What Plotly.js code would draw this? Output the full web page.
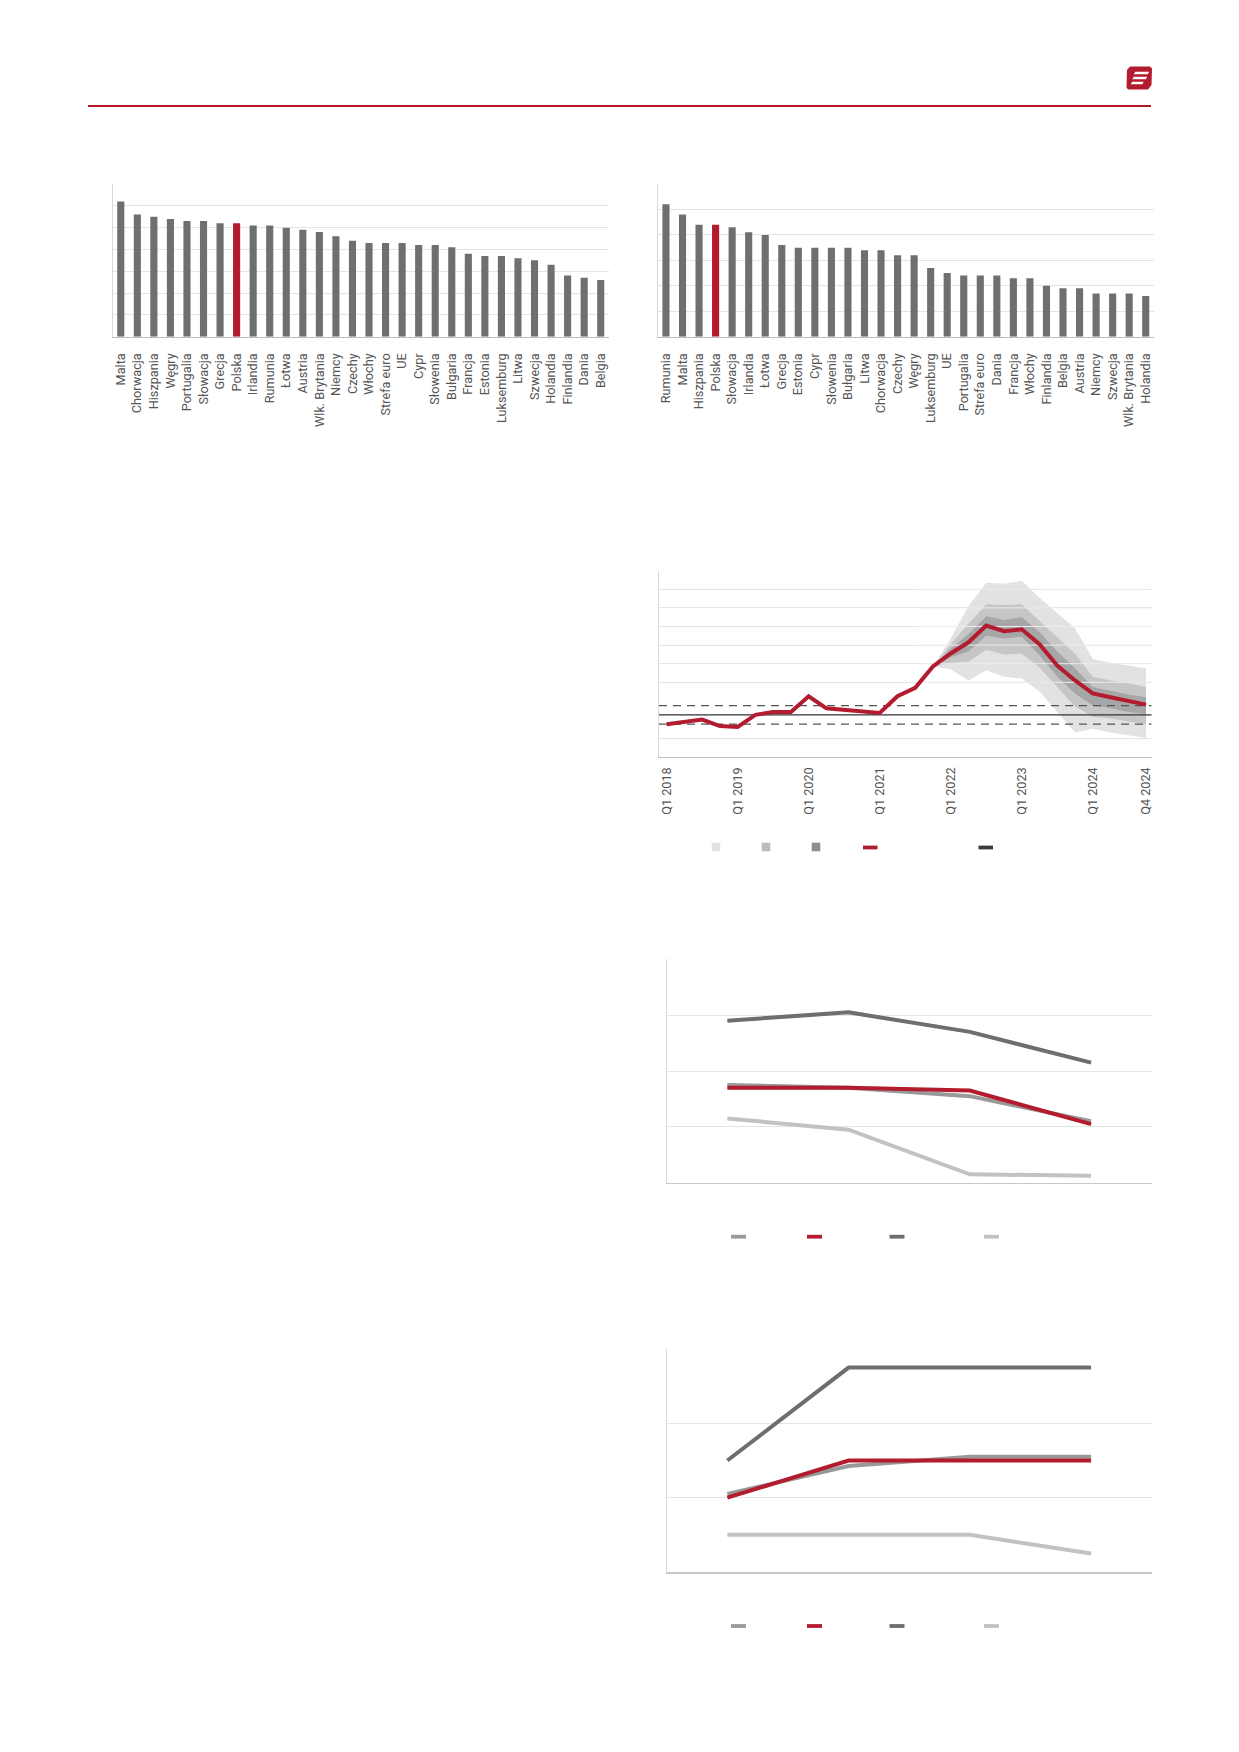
<!DOCTYPE html>
<html>
<head>
<meta charset="utf-8">
<script src="https://cdn.plot.ly/plotly-3.0.1.min.js"></script>
<style>
  html, body { margin: 0; padding: 0; background: #ffffff; }
  #chart { width: 1239px; height: 1752px; }
</style>
</head>
<body>
<div id="chart"></div>
<script>
// ---------- DATA ----------
// Chart 1 (top left) – categories and values
const cats1 = ["Malta","Chorwacja","Hiszpania","Węgry","Portugalia","Słowacja","Grecja","Polska","Irlandia","Rumunia","Łotwa","Austria","Wlk. Brytania","Niemcy","Czechy","Włochy","Strefa euro","UE","Cypr","Słowenia","Bułgaria","Francja","Estonia","Luksemburg","Litwa","Szwecja","Holandia","Finlandia","Dania","Belgia"];
const vals1 = [12.4,11.2,11.0,10.8,10.6,10.6,10.4,10.4,10.2,10.2,10.0,9.8,9.6,9.2,8.8,8.6,8.6,8.6,8.4,8.4,8.2,7.6,7.4,7.4,7.2,7.0,6.6,5.6,5.4,5.2];

// Chart 2 (top right)
const cats2 = ["Rumunia","Malta","Hiszpania","Polska","Słowacja","Irlandia","Łotwa","Grecja","Estonia","Cypr","Słowenia","Bułgaria","Litwa","Chorwacja","Czechy","Węgry","Luksemburg","UE","Portugalia","Strefa euro","Dania","Francja","Włochy","Finlandia","Belgia","Austria","Niemcy","Szwecja","Wlk. Brytania","Holandia"];
const vals2 = [5.2,4.8,4.4,4.4,4.3,4.1,4.0,3.6,3.5,3.5,3.5,3.5,3.4,3.4,3.2,3.2,2.7,2.5,2.4,2.4,2.4,2.3,2.3,2.0,1.9,1.9,1.7,1.7,1.7,1.6];

// Chart 3 (fan chart) – quarters Q1 2018 .. Q4 2024
const quarters = ["Q1 2018","Q2 2018","Q3 2018","Q4 2018","Q1 2019","Q2 2019","Q3 2019","Q4 2019","Q1 2020","Q2 2020","Q3 2020","Q4 2020","Q1 2021","Q2 2021","Q3 2021","Q4 2021","Q1 2022","Q2 2022","Q3 2022","Q4 2022","Q1 2023","Q2 2023","Q3 2023","Q4 2023","Q1 2024","Q2 2024","Q3 2024","Q4 2024"];
const quarterTicks = ["Q1 2018","Q1 2019","Q1 2020","Q1 2021","Q1 2022","Q1 2023","Q1 2024","Q4 2024"];
const central = [1.5,1.7,2.0,1.3,1.2,2.5,2.8,2.8,4.5,3.2,3.0,2.8,2.7,4.5,5.4,7.7,9.1,10.3,12.1,11.5,11.7,10.1,7.8,6.2,4.8,4.4,4.0,3.6];
const fanStart = "Q4 2021";
const outerUp = [7.7,10.7,14.2,16.7,16.6,16.9,15.1,13.4,11.8,8.5,8.1,7.8,7.5];
const outerLo = [7.7,7.4,6.2,7.3,6.6,6.4,5.0,2.8,0.6,1.0,0.6,0.3,0.0];
const midUp   = [7.7,10.1,12.3,14.4,14.3,14.4,12.6,10.9,9.1,6.6,6.2,5.9,5.5];
const midLo   = [7.7,8.1,8.2,9.5,9.0,9.1,7.6,5.5,3.4,2.3,2.1,1.8,1.5];
const darkUp  = [7.7,9.6,11.2,13.1,12.7,13.0,11.4,9.3,7.5,5.5,5.1,4.7,4.4];
const darkLo  = [7.7,8.7,9.3,11.0,10.7,10.9,8.9,6.6,4.8,3.5,3.2,2.8,2.6];
const target = 2.5, targetLo = 1.5, targetHi = 3.5;
const grid3 = [0,6,8,10,12,14,16,18];

// Chart 4
const periods = ["P1","P2","P3","P4"];
const s4mid   = [3.5,3.4,3.1,2.2];
const s4red   = [3.4,3.4,3.3,2.1];
const s4dark  = [5.8,6.1,5.4,4.3];
const s4light = [2.3,1.9,0.3,0.25];

// Chart 5
const s5mid   = [2.1,2.85,3.1,3.1];
const s5red   = [2.0,3.0,3.0,3.0];
const s5dark  = [3.0,5.5,5.5,5.5];
const s5light = [1.0,1.0,1.0,0.5];

// ---------- STYLE ----------
const W = 1239, H = 1752;
const RED = '#b31b2e', GRAY = '#6f6f6f';
const C_MID = '#999999', C_DARK = '#6e6e6e', C_LIGHT = '#c2c2c2';
const FAN1 = '#e2e2e2', FAN2 = '#c6c6c6', FAN3 = '#a6a6a6';
const GRID = '#e4e4e4';
const FONT = 'Roboto, "Open Sans", Arial, sans-serif';

const xd = (a,b) => [a/W, b/W];
const yd = (top,bottom) => [1-bottom/H, 1-top/H];
const px = x => x/W;
const py = y => 1 - y/H;

// ---------- TRACES ----------
const traces = [];

traces.push({type:'bar', x: cats1, y: vals1, xaxis:'x', yaxis:'y',
  marker:{color: cats1.map(c => c === 'Polska' ? RED : GRAY)}, hoverinfo:'x+y'});
traces.push({type:'bar', x: cats2, y: vals2, xaxis:'x2', yaxis:'y2',
  marker:{color: cats2.map(c => c === 'Polska' ? RED : GRAY)}, hoverinfo:'x+y'});

// fan chart
const qIdx = quarters.map((q,i) => i);
const f0 = quarters.indexOf(fanStart);
const fanX = outerUp.map((v,i) => f0 + i);
function band(up, lo, color) {
  return {type:'scatter', mode:'lines', xaxis:'x3', yaxis:'y3',
    x: fanX.concat(fanX.slice().reverse()),
    y: up.concat(lo.slice().reverse()),
    fill:'toself', fillcolor: color, line:{width:0, color: color}, hoverinfo:'skip'};
}
traces.push(band(outerUp, outerLo, FAN1));
traces.push(band(midUp, midLo, FAN2));
traces.push(band(darkUp, darkLo, FAN3));
const X3RANGE = [-0.43, 27.32];
// gridlines redrawn over the fan
grid3.filter(g => g > 0 && g < 18).forEach(g => {
  traces.push({type:'scatter', mode:'lines', xaxis:'x3', yaxis:'y3',
    x: [fanX[0] - 1, X3RANGE[1]], y: [g, g], line:{color:'#ececec', width:1}, hoverinfo:'skip'});
});
[targetHi, targetLo].forEach(t => {
  traces.push({type:'scatter', mode:'lines', xaxis:'x3', yaxis:'y3',
    x: X3RANGE, y: [t, t], line:{color:'#555555', width:1.2, dash:'8px,6px'}, hoverinfo:'skip'});
});
traces.push({type:'scatter', mode:'lines', xaxis:'x3', yaxis:'y3',
  x: X3RANGE, y: [target, target], line:{color:'#333333', width:1.2}, hoverinfo:'skip'});
traces.push({type:'scatter', mode:'lines', xaxis:'x3', yaxis:'y3',
  x: qIdx, y: central, line:{color: RED, width:4, shape:'linear'}});

// chart 4 & 5 lines
const pIdx = periods.map((p,i) => i);
function ln(y, color, ax) {
  return {type:'scatter', mode:'lines', x: pIdx, y: y, xaxis:'x'+ax, yaxis:'y'+ax,
    line:{color: color, width:4}};
}
traces.push(ln(s4light, C_LIGHT, 4), ln(s4dark, C_DARK, 4), ln(s4mid, C_MID, 4), ln(s4red, RED, 4));
traces.push(ln(s5light, C_LIGHT, 5), ln(s5dark, C_DARK, 5), ln(s5mid, C_MID, 5), ln(s5red, RED, 5));

// ---------- AXES ----------
const tickFont = {family: FONT, size: 12.7, color: '#555555'};
function catX(domain, anchor) {
  return {domain: domain, anchor: anchor, type:'category', tickangle:-90, tickfont: tickFont,
    showline:true, linecolor:'#bdbdbd', linewidth:1.5, showgrid:false, ticks:'',
    ticklabelstandoff: 10, fixedrange:true};
}
function valY(domain, anchor, range, dtick) {
  return {domain: domain, anchor: anchor, range: range, dtick: dtick, showticklabels:false,
    showgrid:true, gridcolor: GRID, gridwidth:1, zeroline:false,
    showline:true, linecolor:'#d9d9d9', linewidth:1, ticks:'', fixedrange:true};
}

// ---------- SHAPES (page decorations and legends) ----------
const shapes = [];
// header rule
shapes.push({type:'line', xref:'paper', yref:'paper', x0: px(88), x1: px(1151), y0: py(106), y1: py(106),
  line:{color:'#b5172b', width:2}});
// logo
function path(pts) { return 'M ' + pts.map(p => px(p[0]) + ',' + py(p[1])).join(' L ') + ' Z'; }
shapes.push({type:'path', xref:'paper', yref:'paper', fillcolor:'#b31b2e', line:{width:0},
  path: path([[1130,66.5],[1150,66.5],[1152,68.5],[1151.5,85],[1148,89.5],[1128,89.5],[1126.5,87.5],[1127,70]])});
[[73,1134,1148],[78,1132.5,1146],[83,1131,1142.5]].forEach(s => {
  shapes.push({type:'path', xref:'paper', yref:'paper', fillcolor:'#ffffff', line:{width:0},
    path: path([[s[1]+1.2, s[0]-1.3],[s[2]+1.2, s[0]-1.3],[s[2]-0.2, s[0]+1.3],[s[1]-0.2, s[0]+1.3]])});
});
// legend chart 3
[[716, FAN1],[766, '#bcbcbc'],[816, '#8f8f8f']].forEach(s => {
  shapes.push({type:'rect', xref:'paper', yref:'paper', x0: px(s[0]-4.3), x1: px(s[0]+4.3),
    y0: py(847+4.3), y1: py(847-4.3), fillcolor: s[1], line:{width:0}});
});
function legLine(x0, x1, y, color) {
  shapes.push({type:'line', xref:'paper', yref:'paper', x0: px(x0), x1: px(x1), y0: py(y), y1: py(y),
    line:{color: color, width:3.8}});
}
legLine(863, 877.5, 847.5, RED);
legLine(978.5, 993, 847.5, '#3a3a3a');
// legends chart 4 and 5
[1236.7, 1626].forEach(y => {
  legLine(731, 746, y, C_MID);
  legLine(807, 822, y, RED);
  legLine(889.5, 904.5, y, C_DARK);
  legLine(984, 999, y, C_LIGHT);
});

// ---------- LAYOUT ----------
const layout = {
  width: W, height: H,
  margin: {l:0, r:0, t:0, b:0},
  paper_bgcolor:'#ffffff', plot_bgcolor:'rgba(0,0,0,0)',
  showlegend:false,
  bargap: 0.57,
  font: {family: FONT, color:'#555555'},
  xaxis: catX(xd(112.5, 609), 'y'),
  yaxis: valY(yd(184, 336.7), 'x', [0, 14], 2),
  xaxis2: catX(xd(657.7, 1154), 'y2'),
  yaxis2: valY(yd(184, 336.7), 'x2', [0, 6], 1),
  xaxis3: {domain: xd(659, 1151.7), anchor:'y3', range: X3RANGE, tickmode:'array',
    tickvals: quarterTicks.map(t => quarters.indexOf(t)), ticktext: quarterTicks,
    tickangle:-90, tickfont: tickFont, showline:true, linecolor:'#bdbdbd', linewidth:1.5,
    showgrid:false, zeroline:false, ticks:'', ticklabelstandoff: 4, fixedrange:true},
  yaxis3: {domain: yd(570.7, 756.7), anchor:'x3', range:[-2, 18], tickmode:'array', tickvals: grid3,
    showticklabels:false, showgrid:true, gridcolor: GRID, zeroline:false,
    showline:true, linecolor:'#d9d9d9', linewidth:1, ticks:'', fixedrange:true},
  xaxis4: {domain: xd(666.7, 1151.7), anchor:'y4', range:[-0.5, 3.5], showticklabels:false,
    showgrid:false, zeroline:false, showline:true, linecolor:'#c8c8c8', linewidth:1.5, ticks:'', fixedrange:true},
  yaxis4: valY(yd(959.3, 1182.7), 'x4', [0, 8], 2),
  xaxis5: {domain: xd(666.7, 1151.7), anchor:'y5', range:[-0.5, 3.5], showticklabels:false,
    showgrid:false, zeroline:false, showline:true, linecolor:'#c8c8c8', linewidth:1.5, ticks:'', fixedrange:true},
  yaxis5: valY(yd(1349, 1572), 'x5', [0, 6], 2),
  shapes: shapes
};

Plotly.newPlot('chart', traces, layout, {displayModeBar:false, staticPlot:true});
</script>
</body>
</html>
